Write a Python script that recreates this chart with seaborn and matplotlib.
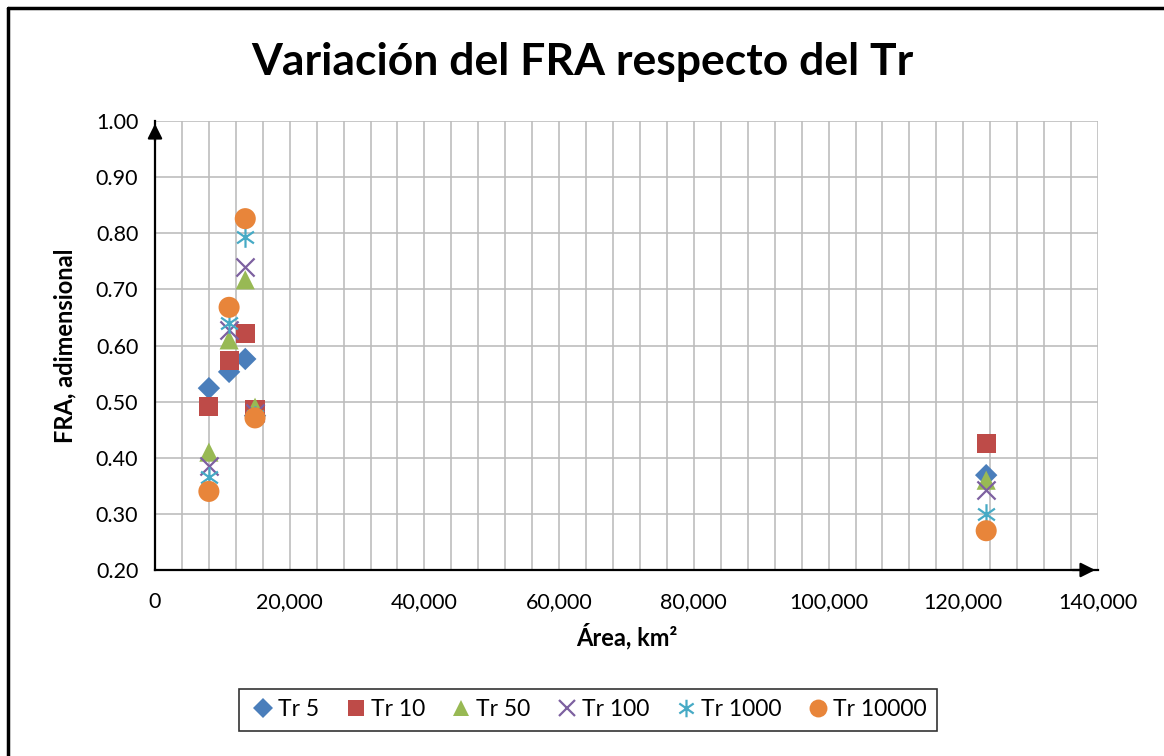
import pandas as pd
import numpy as np
import matplotlib.pyplot as plt
import matplotlib.ticker as mticker
from matplotlib.lines import Line2D
from matplotlib.path import Path
import seaborn as sns

# areas of the basins (km2)
areas = [8000, 11000, 13400, 14850, 123400]

# FRA per return period
tr5 = [0.524, 0.553, 0.576, 0.475, 0.369]
tr10 = [0.492, 0.574, 0.622, 0.485, 0.426]
tr50 = [0.410, 0.610, 0.717, 0.490, 0.360]
tr100 = [0.385, 0.627, 0.740, 0.480, 0.342]
tr1000 = [0.365, 0.640, 0.793, 0.475, 0.300]
tr10000 = [0.340, 0.668, 0.826, 0.471, 0.270]

series_names = ['Tr 5', 'Tr 10', 'Tr 50', 'Tr 100', 'Tr 1000', 'Tr 10000']
series_vals = [tr5, tr10, tr50, tr100, tr1000, tr10000]

# excel-like asterisk: vertical spoke plus an x
ang = np.deg2rad([90, 35, 145])
star_verts, star_codes = [], []
for a in ang:
    dx, dy = np.cos(a), np.sin(a)
    star_verts += [(-dx, -dy), (dx, dy)]
    star_codes += [Path.MOVETO, Path.LINETO]
star = Path(star_verts, star_codes)

colors = ['#4A7EBB', '#BE4B48', '#98B954', '#7D60A0', '#46AAC5', '#E8853A']
markers = ['D', 's', '^', 'x', star, 'o']
sizes = [130, 190, 190, 170, 220, 230]
line_mk = [False, False, False, True, True, False]

df = pd.DataFrame({
    'Area': areas * len(series_names),
    'FRA': [v for vals in series_vals for v in vals],
    'Serie': [n for n in series_names for _ in areas],
})

sns.set_style('white')
plt.rcParams['font.family'] = ['Lato', 'DejaVu Sans']
plt.rcParams['text.color'] = 'black'
plt.rcParams['axes.labelcolor'] = 'black'
plt.rcParams['xtick.color'] = 'black'
plt.rcParams['ytick.color'] = 'black'

fig = plt.figure(figsize=(11.64, 7.56), dpi=100)
ax = fig.add_axes([155 / 1164, 186 / 756, 943 / 1164, 449 / 756])

for name, col, mk, sz, ln in zip(series_names, colors, markers, sizes, line_mk):
    sub = df[df['Serie'] == name]
    if ln:
        kw = dict(color=col, edgecolor=col, linewidth=1.6)
    else:
        kw = dict(color=col, linewidth=0, edgecolor='none')
    sns.scatterplot(data=sub, x='Area', y='FRA', ax=ax, marker=mk, s=sz,
                    zorder=3, clip_on=False, legend=False, **kw)

ax.set_xlim(0, 140000)
ax.set_ylim(0.20, 1.00)
ax.xaxis.set_major_locator(mticker.MultipleLocator(20000))
ax.xaxis.set_minor_locator(mticker.MultipleLocator(4000))
ax.yaxis.set_major_locator(mticker.MultipleLocator(0.1))
ax.yaxis.set_minor_locator(mticker.MultipleLocator(0.02))
ax.xaxis.set_major_formatter(mticker.FuncFormatter(lambda v, p: f'{v:,.0f}'))
ax.yaxis.set_major_formatter(mticker.FormatStrFormatter('%.2f'))

ax.grid(True, which='major', axis='y', color='#BDBDBD', linewidth=1.2)
ax.grid(True, which='both', axis='x', color='#BDBDBD', linewidth=1.2)
ax.set_axisbelow(True)

for s in ['top', 'right']:
    ax.spines[s].set_visible(False)
for s in ['left', 'bottom']:
    ax.spines[s].set_color('black')
    ax.spines[s].set_linewidth(1.6)

ax.tick_params(axis='both', which='major', direction='inout', length=12, width=1.6,
               color='black', labelsize=15.5, pad=6)
ax.tick_params(axis='both', which='minor', direction='in', length=5, width=1.2,
               color='black')
ax.tick_params(axis='x', which='major', pad=10)

# arrow heads at axis ends
ax.annotate('', xy=(1, 0), xycoords='axes fraction', xytext=(0.97, 0),
            arrowprops=dict(arrowstyle='-|>', color='black', lw=1.6, mutation_scale=22))
ax.annotate('', xy=(0, 1), xycoords='axes fraction', xytext=(0, 0.95),
            arrowprops=dict(arrowstyle='-|>', color='black', lw=1.6, mutation_scale=22))

ax.set_xlabel('Área, km²', fontsize=17, fontweight='bold', labelpad=8)
ax.set_ylabel('FRA, adimensional', fontsize=17, fontweight='bold', labelpad=14)

fig.suptitle('Variación del FRA respecto del Tr', fontsize=32, fontweight='bold',
             y=1 - 62 / 756, va='center')

handles = [Line2D([], [], linestyle='none', marker=mk, markersize=np.sqrt(sz) * 0.85,
                  markerfacecolor=col, markeredgewidth=1.6 if ln else 0,
                  markeredgecolor=col)
           for col, mk, sz, ln in zip(colors, markers, sizes, line_mk)]
ax.legend(handles, series_names, loc='center', bbox_to_anchor=(588 / 1164, 1 - 710 / 756),
          bbox_transform=fig.transFigure, ncol=6, frameon=True, fancybox=False,
          edgecolor='black', fontsize=16.5, handletextpad=0.05, columnspacing=1.0,
          handlelength=1.2, borderpad=0.45)
ax.get_legend().get_frame().set_linewidth(1.2)

# chart border (left and top visible)
fig.add_artist(Line2D([8 / 1164, 8 / 1164], [0, 1 - 8 / 756], transform=fig.transFigure,
                      color='black', linewidth=2.5))
fig.add_artist(Line2D([8 / 1164, 1], [1 - 8 / 756, 1 - 8 / 756], transform=fig.transFigure,
                      color='black', linewidth=2.5))

fig.savefig('out.png', dpi=100)
